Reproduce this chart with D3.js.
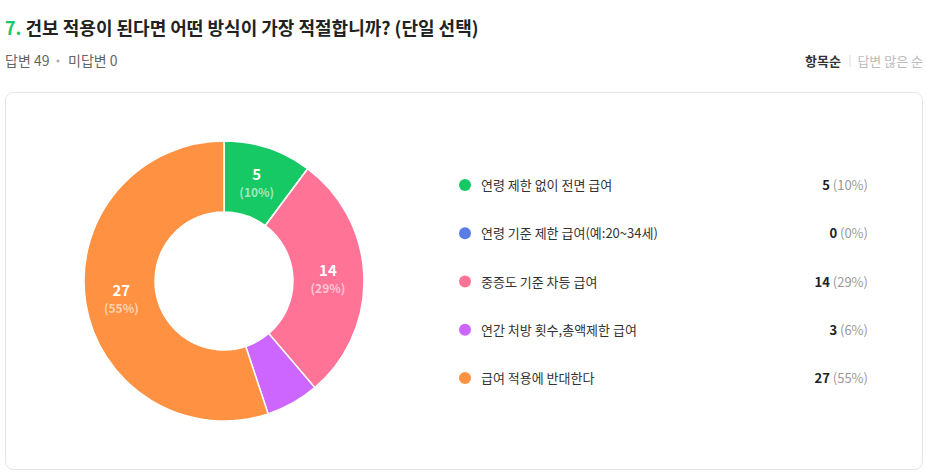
<!DOCTYPE html><html><head><meta charset="utf-8"><script src="https://cdn.jsdelivr.net/npm/d3@7"></script>
<style>body{margin:0;background:#fff;font-family:"Noto Sans CJK KR","Noto Sans",sans-serif}</style></head><body><svg id="c" width="926" height="474"></svg>
<script>
const categories=["연령 제한 없이 전면 급여","연령 기준 제한 급여(예:20~34세)","중증도 기준 차등 급여","연간 처방 횟수,총액제한 급여","급여 적용에 반대한다"];
const values=[5,0,14,3,27];
const percents=[10,0,29,6,55];
const colors=["#17c964","#5a7ce8","#ff7396","#cc66ff","#ff9142"];
const svg=d3.select("#c");
const t=svg.append("text").attr("x",5).attr("y",35).attr("font-size",18).attr("font-weight",700).attr("fill","#222");
t.append("tspan").attr("fill","#17c964").text("7. ");
t.append("tspan").text("건보 적용이 된다면 어떤 방식이 가장 적절합니까? (단일 선택)");
svg.append("text").attr("x",5).attr("y",66).attr("font-size",14).attr("fill","#666").text("답변 49");
svg.append("circle").attr("cx",58).attr("cy",61).attr("r",1.5).attr("fill","#aaa");
svg.append("text").attr("x",68).attr("y",66).attr("font-size",14).attr("fill","#666").text("미답변 0");
svg.append("text").attr("x",841).attr("y",66).attr("font-size",13).attr("font-weight",700).attr("fill","#333").attr("text-anchor","end").text("항목순");
svg.append("line").attr("x1",850).attr("x2",850).attr("y1",55).attr("y2",67).attr("stroke","#ddd");
svg.append("text").attr("x",923).attr("y",66).attr("font-size",13).attr("fill","#bbb").attr("text-anchor","end").text("답변 많은 순");
svg.append("rect").attr("x",5.5).attr("y",92.5).attr("width",917).attr("height",377).attr("rx",8).attr("fill","#fff").attr("stroke","#e5e5e5");
const g=svg.append("g").attr("transform","translate(224,281)");
const pie=d3.pie().sort(null).value(d=>d)(values);
const arc=d3.arc().innerRadius(69).outerRadius(140);
g.selectAll("path").data(pie).join("path").attr("d",arc).attr("fill",(d,i)=>colors[i]).attr("stroke","#fff").attr("stroke-width",1.5);
const la=d3.arc().innerRadius(104).outerRadius(104);
pie.forEach((d,i)=>{ if(percents[i]<8) return;
 const [x,y]=la.centroid(d);
 g.append("text").attr("x",x).attr("y",y-2).attr("text-anchor","middle").attr("font-size",15).attr("font-weight",700).attr("fill","#fff").text(values[i]);
 g.append("text").attr("x",x).attr("y",y+15).attr("text-anchor","middle").attr("font-size",12).attr("font-weight",700).attr("fill","rgba(255,255,255,0.6)").text(`(${percents[i]}%)`);
});
const y=d3.scalePoint().domain(categories).range([185,378]);
categories.forEach((c,i)=>{
 const yy=y(c);
 svg.append("circle").attr("cx",465).attr("cy",yy).attr("r",6).attr("fill",colors[i]);
 svg.append("text").attr("x",481).attr("y",yy+5).attr("font-size",13).attr("fill","#333").text(c);
 const tt=svg.append("text").attr("x",868).attr("y",yy+5).attr("font-size",13).attr("text-anchor","end");
 tt.append("tspan").attr("font-weight",700).attr("fill","#222").text(values[i]+" ");
 tt.append("tspan").attr("fill","#999").text(`(${percents[i]}%)`);
});
</script></body></html>
